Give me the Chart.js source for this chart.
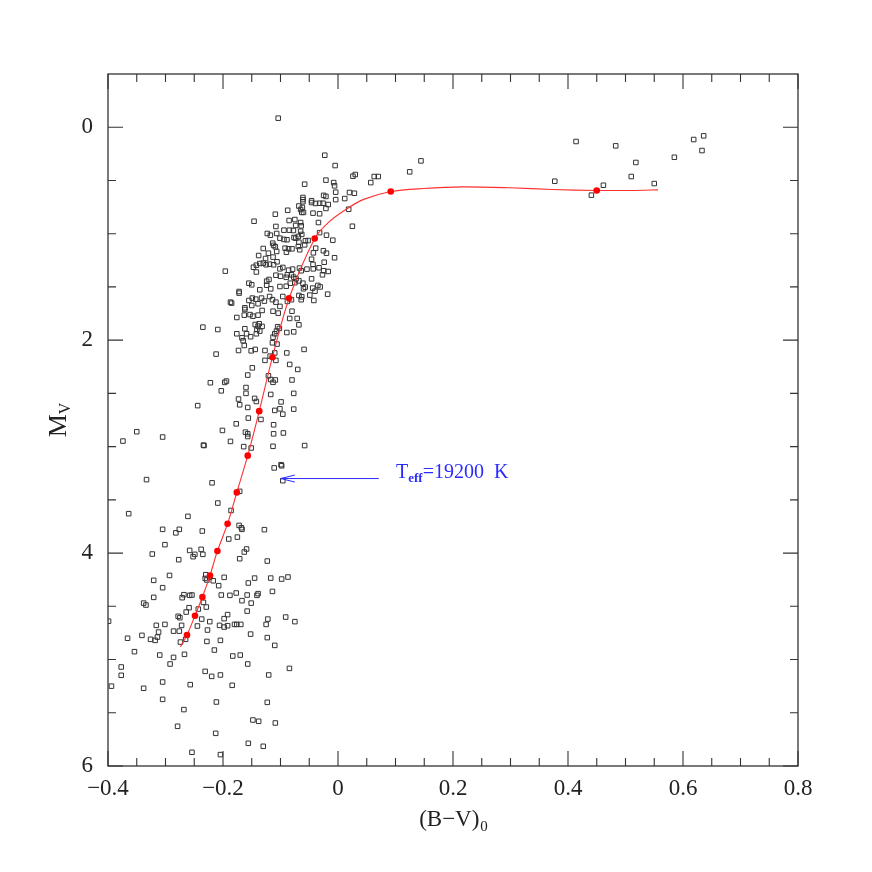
<!DOCTYPE html>
<html>
<head>
<meta charset="utf-8">
<script src="https://cdn.jsdelivr.net/npm/chart.js@4.4.1/dist/chart.umd.min.js"></script>
<style>
html, body { margin: 0; padding: 0; background: #fff; }
#wrap { width: 872px; height: 872px; }
</style>
</head>
<body>
<div id="wrap"><canvas id="cmd"></canvas></div>
<script>
// axis setup
const xTicks = [-0.4, -0.2, 0, 0.2, 0.4, 0.6, 0.8];
const yTicks = [0, 2, 4, 6];
const xTitle = '(B\u2212V)';
const xTitleSub = '0';
const yTitle = 'M';
const yTitleSub = 'V';

// annotation: Teff label + arrow pointing at a star
const noteMain = 'T';
const noteSub = 'eff';
const noteRest = '=19200  K';
const arrowFrom = [0.071, 3.30];
const arrowTo = [-0.0995, 3.30];

// isochrone (red line) and its marked points
const isoLine = [
    [-0.274, 4.88], [-0.2626, 4.77], [-0.2487, 4.588], [-0.2358, 4.413], [-0.2226, 4.21],
    [-0.2097, 3.98], [-0.192, 3.724], [-0.176, 3.43], [-0.157, 3.085], [-0.137, 2.667],
    [-0.114, 2.16], [-0.085, 1.606], [-0.0405, 1.045], [-0.0174, 0.898], [0.0116, 0.78],
    [0.0435, 0.68], [0.092, 0.604], [0.148, 0.576], [0.217, 0.56], [0.299, 0.569],
    [0.374, 0.585], [0.45, 0.594], [0.513, 0.594], [0.5565, 0.588]
];
const isoDots = [
    [0.45, 0.594], [0.0917, 0.604], [-0.0405, 1.045], [-0.0852, 1.606], [-0.114, 2.16],
    [-0.137, 2.667], [-0.157, 3.085], [-0.176, 3.43], [-0.192, 3.724], [-0.2097, 3.98],
    [-0.2226, 4.21], [-0.2358, 4.413], [-0.2487, 4.588], [-0.2626, 4.77]
];

// stars: (B-V)0, Mv
const starsTurnoff = [
    [-0.104, -0.085], [-0.023, 0.263], [-0.005, 0.36], [0.030, 0.444], [0.026, 0.46],
    [0.063, 0.463], [0.070, 0.463], [0.057, 0.52], [-0.021, 0.497], [-0.0075, 0.52],
    [-0.006, 0.55], [-0.058, 0.535], [-0.004, 0.61], [0.020, 0.613], [0.0285, 0.62],
    [0.0117, 0.67], [-0.004, 0.68], [-0.025, 0.64], [-0.021, 0.65], [-0.061, 0.66],
    [-0.061, 0.68], [-0.061, 0.70], [-0.046, 0.69], [-0.046, 0.707], [-0.039, 0.716],
    [-0.032, 0.714], [-0.026, 0.714], [-0.017, 0.726], [-0.068, 0.74], [-0.062, 0.754],
    [-0.065, 0.773], [-0.063, 0.80], [-0.060, 0.80], [-0.021, 0.763], [0.0186, 0.77],
    [-0.0875, 0.78], [-0.0435, 0.807], [-0.032, 0.813], [-0.109, 0.817], [-0.085, 0.876],
    [-0.075, 0.867], [-0.146, 0.883], [-0.034, 0.895], [-0.065, 0.895], [-0.064, 0.926],
    [0.025, 0.93], [-0.108, 0.932], [-0.094, 0.967], [-0.0845, 0.967], [-0.0776, 0.97],
    [-0.065, 0.977], [-0.032, 0.99], [-0.020, 1.014], [-0.123, 0.998], [-0.1176, 1.014],
    [-0.1066, 0.998], [-0.101, 1.042], [-0.094, 1.054], [-0.0887, 1.057], [-0.0765, 1.036],
    [-0.0736, 1.042], [-0.069, 1.026], [-0.052, 1.064], [-0.0567, 1.067], [-0.009, 1.061],
    [-0.1136, 1.089], [-0.112, 1.11], [-0.109, 1.123], [-0.092, 1.136], [-0.086, 1.142],
    [-0.080, 1.142], [-0.0897, 1.174], [-0.1066, 1.167], [-0.0666, 1.151], [-0.0388, 1.136],
    [-0.0428, 1.18], [-0.0254, 1.16], [-0.020, 1.183], [-0.121, 1.183], [-0.113, 1.22],
    [-0.138, 1.205], [-0.126, 1.233], [-0.006, 1.226], [-0.046, 1.24], [-0.0736, 0.923],
    [-0.063, 1.007], [-0.068, 1.08], [-0.130, 1.139], [-0.069, 1.12], [-0.058, 1.105]
];
const starsClump = [
    [0.1247, 0.419], [0.1443, 0.316], [0.377, 0.507], [0.414, 0.134], [0.4407, 0.638],
    [0.4616, 0.545], [0.483, 0.175], [0.510, 0.463], [0.518, 0.331], [0.550, 0.529],
    [0.585, 0.282], [0.6186, 0.1155], [0.636, 0.081], [0.633, 0.219]
];
const starsUpperMS = [
    [-0.196, 1.352], [-0.147, 1.315], [-0.142, 1.296], [-0.136, 1.28], [-0.130, 1.277],
    [-0.125, 1.292], [-0.119, 1.286], [-0.112, 1.292], [-0.106, 1.264], [-0.142, 1.36],
    [-0.101, 1.33], [-0.096, 1.317], [-0.086, 1.343], [-0.079, 1.333], [-0.067, 1.323],
    [-0.064, 1.348], [-0.054, 1.333], [-0.043, 1.33], [-0.033, 1.32], [-0.025, 1.348],
    [-0.017, 1.355], [-0.120, 1.43], [-0.124, 1.446], [-0.108, 1.39], [-0.100, 1.40],
    [-0.090, 1.41], [-0.088, 1.386], [-0.081, 1.386], [-0.077, 1.408], [-0.073, 1.424],
    [-0.155, 1.465], [-0.150, 1.48], [-0.124, 1.484], [-0.136, 1.527], [-0.117, 1.518],
    [-0.101, 1.496], [-0.090, 1.493], [-0.083, 1.465], [-0.075, 1.46], [-0.068, 1.443],
    [-0.061, 1.465], [-0.057, 1.502], [-0.044, 1.511], [-0.040, 1.54], [-0.049, 1.577],
    [-0.031, 1.5], [-0.018, 1.568], [-0.172, 1.543], [-0.172, 1.558], [-0.187, 1.643],
    [-0.185, 1.652], [-0.162, 1.696], [-0.155, 1.627], [-0.149, 1.605], [-0.150, 1.674],
    [-0.143, 1.615], [-0.139, 1.658], [-0.133, 1.605], [-0.128, 1.633], [-0.119, 1.59],
    [-0.114, 1.62], [-0.108, 1.643], [-0.096, 1.59], [-0.088, 1.636], [-0.081, 1.62],
    [-0.063, 1.593], [-0.0435, 1.289], [-0.024, 1.268], [-0.027, 1.386], [-0.046, 1.424],
    [-0.035, 1.486], [-0.042, 1.627], [-0.060, 1.517], [-0.068, 1.58], [-0.064, 1.62]
];
const starsMidMS = [
    [-0.162, 1.712], [-0.176, 1.787], [-0.163, 1.765], [-0.153, 1.76], [-0.148, 1.775],
    [-0.139, 1.765], [-0.132, 1.721], [-0.113, 1.728], [-0.104, 1.746], [-0.101, 1.683],
    [-0.084, 1.796], [-0.080, 1.728], [-0.071, 1.796], [-0.068, 1.856], [-0.235, 1.878],
    [-0.209, 1.9], [-0.176, 1.94], [-0.162, 1.893], [-0.159, 1.94], [-0.144, 1.853],
    [-0.137, 1.846], [-0.132, 1.871], [-0.139, 1.868], [-0.141, 1.9], [-0.136, 1.915],
    [-0.142, 1.94], [-0.152, 1.968], [-0.167, 1.978], [-0.165, 2.006], [-0.163, 2.05],
    [-0.151, 2.1], [-0.144, 2.087], [-0.173, 2.097], [-0.212, 2.131], [-0.127, 2.097],
    [-0.114, 2.025], [-0.106, 2.037], [-0.113, 1.972], [-0.110, 1.94], [-0.105, 1.874],
    [-0.107, 1.915], [-0.102, 1.89], [-0.089, 1.928], [-0.077, 1.922], [-0.059, 2.087],
    [-0.127, 2.19], [-0.118, 2.15], [-0.110, 2.12], [-0.108, 2.19], [-0.089, 2.12],
    [-0.084, 2.228], [-0.070, 2.275], [-0.149, 2.26], [-0.157, 2.328], [-0.121, 2.335],
    [-0.117, 2.37], [-0.113, 2.396], [-0.109, 2.374], [-0.080, 2.374], [-0.222, 2.4],
    [-0.197, 2.397], [-0.194, 2.384], [-0.203, 2.476], [-0.160, 2.445], [-0.160, 2.5],
    [-0.117, 2.51], [-0.077, 2.5], [-0.173, 2.553], [-0.171, 2.607], [-0.145, 2.547],
    [-0.142, 2.576], [-0.099, 2.58], [-0.101, 2.645], [-0.110, 2.66], [-0.096, 2.695],
    [-0.077, 2.648], [-0.157, 2.632], [-0.156, 2.732], [-0.134, 2.745], [-0.177, 2.786],
    [-0.112, 2.795], [-0.112, 2.88], [-0.095, 2.872], [-0.201, 2.848], [-0.161, 2.864],
    [-0.157, 2.905], [-0.157, 2.88], [-0.187, 2.951], [-0.234, 2.986], [-0.233, 2.99],
    [-0.164, 3.0], [-0.151, 3.013], [-0.113, 2.997], [-0.058, 2.99], [-0.111, 3.2],
    [-0.099, 3.17], [-0.098, 3.18], [-0.096, 3.32], [-0.219, 3.34], [-0.171, 3.42],
    [-0.374, 2.948], [-0.350, 2.86], [-0.305, 2.91], [-0.333, 3.31], [-0.244, 2.615]
];
const starsLowerMS = [
    [-0.209, 3.53], [-0.364, 3.63], [-0.261, 3.655], [-0.186, 3.6], [-0.172, 3.74],
    [-0.168, 3.762], [-0.167, 3.777], [-0.128, 3.78], [-0.305, 3.777], [-0.276, 3.777],
    [-0.282, 3.81], [-0.236, 3.793], [-0.190, 3.868], [-0.175, 3.85], [-0.301, 3.921],
    [-0.159, 3.962], [-0.163, 3.99], [-0.171, 4.053], [-0.258, 3.975], [-0.238, 3.965],
    [-0.249, 4.012], [-0.252, 4.034], [-0.235, 4.012], [-0.323, 4.009], [-0.277, 4.062],
    [-0.123, 4.075], [-0.293, 4.21], [-0.230, 4.203], [-0.231, 4.238], [-0.228, 4.253],
    [-0.223, 4.225], [-0.217, 4.26], [-0.198, 4.228], [-0.145, 4.235], [-0.117, 4.235],
    [-0.098, 4.244], [-0.087, 4.225], [-0.3205, 4.256], [-0.156, 4.281], [-0.2075, 4.306],
    [-0.305, 4.325], [-0.114, 4.36], [-0.177, 4.375], [-0.158, 4.394], [-0.141, 4.397],
    [-0.139, 4.381], [-0.203, 4.394], [-0.188, 4.397], [-0.268, 4.391], [-0.258, 4.397],
    [-0.254, 4.394], [-0.271, 4.419], [-0.3205, 4.416], [-0.167, 4.447], [-0.151, 4.47],
    [-0.234, 4.463], [-0.338, 4.47], [-0.334, 4.488], [-0.259, 4.513], [-0.243, 4.526],
    [-0.264, 4.554], [-0.229, 4.507], [-0.158, 4.545], [-0.192, 4.578], [-0.198, 4.616],
    [-0.278, 4.594], [-0.275, 4.607], [-0.237, 4.62], [-0.223, 4.644], [-0.122, 4.62],
    [-0.125, 4.67], [-0.091, 4.601], [-0.075, 4.644], [-0.399, 4.64], [-0.316, 4.679],
    [-0.301, 4.67], [-0.272, 4.679], [-0.2445, 4.685], [-0.206, 4.679], [-0.198, 4.695],
    [-0.192, 4.682], [-0.180, 4.67], [-0.176, 4.67], [-0.169, 4.67]
];
const starsFaint = [
    [-0.286, 4.733], [-0.276, 4.733], [-0.227, 4.723], [-0.312, 4.742], [-0.314, 4.789],
    [-0.318, 4.82], [-0.326, 4.81], [-0.341, 4.773], [-0.366, 4.8], [-0.274, 4.836],
    [-0.265, 4.81], [-0.228, 4.83], [-0.2045, 4.82], [-0.152, 4.761], [-0.123, 4.794],
    [-0.110, 4.867], [-0.354, 4.926], [-0.310, 4.958], [-0.267, 4.951], [-0.286, 4.98],
    [-0.292, 5.042], [-0.215, 4.911], [-0.183, 4.967], [-0.170, 4.958], [-0.157, 5.042],
    [-0.377, 5.07], [-0.377, 5.148], [-0.394, 5.25], [-0.338, 5.27], [-0.231, 5.111],
    [-0.2197, 5.158], [-0.2045, 5.145], [-0.305, 5.211], [-0.257, 5.236], [-0.184, 5.242],
    [-0.1205, 5.145], [-0.0845, 5.083], [-0.305, 5.374], [-0.2115, 5.399], [-0.123, 5.402],
    [-0.268, 5.47], [-0.148, 5.568], [-0.138, 5.58], [-0.109, 5.596], [-0.279, 5.627],
    [-0.2127, 5.693], [-0.156, 5.787], [-0.130, 5.815], [-0.254, 5.871], [-0.2045, 5.893]
];

const FONT = '"Liberation Serif", "DejaVu Serif", serif';
const INK = '#222';
const BLUE = '#2b2bff';

function toXY(list) {
    return list.map(([x, y]) => ({ x, y }));
}

function fmtX(v) {
    if (Math.abs(v) < 1e-9) return '0';
    return (v < 0 ? '\u2212' : '') + Math.abs(v).toFixed(1);
}

// frame with inward ticks on all four sides (SM style)
const frameTicks = {
    id: 'frameTicks',
    beforeDatasetsDraw(chart) {
        const { ctx, chartArea: a, scales: { x, y } } = chart;
        ctx.save();
        ctx.strokeStyle = '#333';
        ctx.lineWidth = 1.3;
        ctx.strokeRect(a.left, a.top, a.right - a.left, a.bottom - a.top);
        ctx.lineWidth = 1.1;
        ctx.beginPath();
        for (let i = 0; i <= 24; i++) {
            const v = -0.4 + i * 0.05;
            const px = x.getPixelForValue(v);
            const len = i % 4 === 0 ? 15 : 8;
            ctx.moveTo(px, a.bottom); ctx.lineTo(px, a.bottom - len);
            ctx.moveTo(px, a.top); ctx.lineTo(px, a.top + len);
        }
        for (let i = 0; i <= 12; i++) {
            const v = i * 0.5;
            const py = y.getPixelForValue(v);
            const len = i % 4 === 0 ? 15 : 8;
            ctx.moveTo(a.left, py); ctx.lineTo(a.left + len, py);
            ctx.moveTo(a.right, py); ctx.lineTo(a.right - len, py);
        }
        ctx.stroke();
        ctx.restore();
    }
};

// axis titles with subscripts and the Teff annotation
const labelsPlugin = {
    id: 'labelsPlugin',
    afterDraw(chart) {
        const { ctx, chartArea: a, scales: { x, y } } = chart;
        ctx.save();
        ctx.fillStyle = INK;
        ctx.textBaseline = 'alphabetic';
        ctx.textAlign = 'left';

        // x title
        ctx.font = '23px ' + FONT;
        const wMain = ctx.measureText(xTitle).width;
        ctx.font = '15px ' + FONT;
        const wSub = ctx.measureText(xTitleSub).width;
        let sx = (a.left + a.right) / 2 - (wMain + wSub) / 2;
        ctx.font = '23px ' + FONT;
        ctx.fillText(xTitle, sx, 826);
        ctx.font = '15px ' + FONT;
        ctx.fillText(xTitleSub, sx + wMain + 1, 831);

        // y title (rotated)
        ctx.save();
        ctx.translate(66, 420);
        ctx.rotate(-Math.PI / 2);
        ctx.font = '26px ' + FONT;
        const mW = ctx.measureText(yTitle).width;
        ctx.font = '16px ' + FONT;
        const vW = ctx.measureText(yTitleSub).width;
        const start = -(mW + vW) / 2;
        ctx.font = '26px ' + FONT;
        ctx.fillText(yTitle, start, 0);
        ctx.font = '16px ' + FONT;
        ctx.fillText(yTitleSub, start + mW, 4);
        ctx.restore();

        // arrow
        const x0 = x.getPixelForValue(arrowFrom[0]);
        const y0 = y.getPixelForValue(arrowFrom[1]);
        const x1 = x.getPixelForValue(arrowTo[0]);
        const y1 = y.getPixelForValue(arrowTo[1]);
        ctx.strokeStyle = BLUE;
        ctx.lineWidth = 1;
        ctx.beginPath();
        ctx.moveTo(x0, y0); ctx.lineTo(x1, y1);
        ctx.moveTo(x1 + 14, y1 - 3.5); ctx.lineTo(x1, y1); ctx.lineTo(x1 + 14, y1 + 3.5);
        ctx.stroke();

        // Teff label
        ctx.fillStyle = BLUE;
        let tx = 396;
        const base = y1 - 1;
        ctx.font = '20px ' + FONT;
        ctx.fillText(noteMain, tx, base);
        tx += ctx.measureText(noteMain).width;
        ctx.font = 'bold 13px ' + FONT;
        ctx.fillText(noteSub, tx, base + 4);
        tx += ctx.measureText(noteSub).width;
        ctx.font = '20px ' + FONT;
        ctx.fillText(noteRest, tx, base);
        ctx.restore();
    }
};

new Chart(document.getElementById('cmd'), {
    type: 'scatter',
    data: {
        datasets: [
            {
                label: 'isochrone',
                data: toXY(isoLine),
                showLine: true,
                borderColor: '#ff3030',
                borderWidth: 1.1,
                pointRadius: 0,
                tension: 0.3,
                order: 2
            },
            {
                label: 'isochrone points',
                data: toXY(isoDots),
                pointStyle: 'circle',
                pointRadius: 3.3,
                backgroundColor: '#ff0000',
                borderColor: '#ff0000',
                borderWidth: 0,
                order: 1
            },
            {
                label: 'stars',
                data: toXY([].concat(starsTurnoff, starsClump, starsUpperMS, starsMidMS, starsLowerMS, starsFaint)),
                pointStyle: 'rect',
                pointRadius: 3.2,
                backgroundColor: 'rgba(0,0,0,0)',
                borderColor: '#333',
                borderWidth: 1,
                order: 3
            }
        ]
    },
    options: {
        responsive: true,
        maintainAspectRatio: false,
        animation: false,
        layout: { padding: { top: 74, right: 74, left: 0, bottom: 0 } },
        plugins: {
            legend: { display: false },
            tooltip: { enabled: false }
        },
        scales: {
            x: {
                type: 'linear',
                min: -0.4,
                max: 0.8,
                grid: { display: false, drawTicks: false },
                border: { display: false },
                afterBuildTicks: s => { s.ticks = xTicks.map(v => ({ value: v })); },
                afterFit: s => { s.height = 106; },
                ticks: {
                    padding: 9,
                    maxRotation: 0,
                    autoSkip: false,
                    color: INK,
                    font: { family: FONT, size: 23 },
                    callback: v => fmtX(v)
                }
            },
            y: {
                type: 'linear',
                reverse: true,
                min: -0.5,
                max: 6,
                grid: { display: false, drawTicks: false },
                border: { display: false },
                afterBuildTicks: s => { s.ticks = yTicks.map(v => ({ value: v })); },
                afterFit: s => { s.width = 108; },
                ticks: {
                    padding: 15,
                    autoSkip: false,
                    color: INK,
                    font: { family: FONT, size: 23 },
                    callback: v => String(v)
                }
            }
        }
    },
    plugins: [frameTicks, labelsPlugin]
});
</script>
</body>
</html>
